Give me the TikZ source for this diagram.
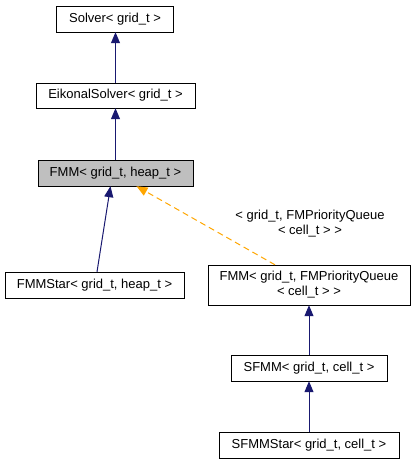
\documentclass[tikz,border=0pt]{standalone}
\usepackage{fontspec}
\setmainfont{Liberation Sans}
\usepackage{xcolor}
\definecolor{edgeblue}{rgb}{0.1,0.1,0.44}
\definecolor{tmplorange}{rgb}{1,0.65,0}
\definecolor{current}{rgb}{0.75,0.75,0.75}
\usetikzlibrary{arrows.meta}
\usetikzlibrary{positioning}

\begin{document}
\begin{tikzpicture}[x=1pt, y=-1pt, every node/.style={font=\fontsize{13}{15}\selectfont},
	classbox/.style={draw, fill=white, inner sep=0pt, minimum height=26pt},
	inherit/.style={->, >={Triangle[length=11pt,width=9pt]}, color=edgeblue, line width=1pt},
	template/.style={->, >={Triangle[length=11pt,width=9pt]}, color=tmplorange, line width=1pt, dash pattern=on 6pt off 4pt}]
\useasboundingbox (0,0) rectangle (416,467);

\node(solver)[classbox, minimum width=117pt] at (115,19) {Solver< grid\_t >};
\node(eikonal)[classbox, minimum width=159pt, minimum height=25pt] at (115.5,95.5) {EikonalSolver< grid\_t >};
\node(fmm)[classbox, fill=current, minimum width=155pt] at (115.5,173) {FMM< grid\_t, heap\_t >};
\node(fmmstar)[classbox, minimum width=179pt] at (94.5,285) {FMMStar< grid\_t, heap\_t >};
\node(fmmpq)[classbox, align=center, minimum width=202pt, minimum height=40pt] at (309,285) {FMM< grid\_t, FMPriorityQueue\\< cell\_t > >};
\node(sfmm)[classbox, minimum width=156pt] at (309,368) {SFMM< grid\_t, cell\_t >};
\node(sfmmstar)[classbox, minimum width=180pt] at (309,445) {SFMMStar< grid\_t, cell\_t >};
\node(tmpl)[align=center] at (310,224) {< grid\_t, FMPriorityQueue\\< cell\_t > >};

\draw[inherit] (eikonal) -- (eikonal |- solver.south);
\draw[inherit] (fmm) -- (eikonal);
\draw[inherit] ([xshift=2.5pt]fmmstar.north) -- ([xshift=-5pt]fmm.south);
\draw[template] ([xshift=-34pt]fmmpq.north) -- ([xshift=21pt]fmm.south);
\draw[inherit] (sfmm) -- (fmmpq);
\draw[inherit] (sfmmstar) -- (sfmm);
\end{tikzpicture}
\end{document}
